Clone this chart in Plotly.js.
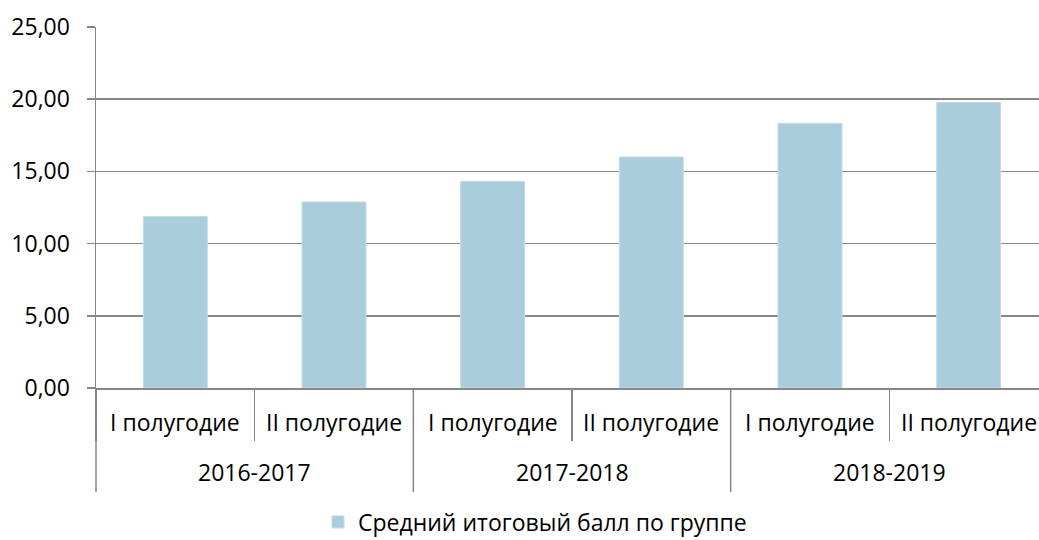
<!DOCTYPE html>
<html>
<head>
<meta charset="utf-8">
<script src="https://cdn.plot.ly/plotly-3.0.1.min.js"></script>
<style>
html,body{margin:0;padding:0;overflow:hidden;background:#fff;}
#chart{width:1054px;height:540px;}
</style>
</head>
<body>
<div id="chart"></div>
<script>
// Data
const years = ["2016-2017", "2017-2018", "2018-2019"];
const halves = ["I полугодие", "II полугодие"];
const values = [11.87, 12.88, 14.31, 16.0, 18.33, 19.77];
const seriesName = "Средний итоговый балл по группе";

const FONT = "Open Sans, sans-serif";
const FS = 23;
const GRAY = "#878787";

const cats = [];
const inner = [];
years.forEach((y) => {
  halves.forEach(h => { cats.push(y + " | " + h); inner.push(h); });
});

const trace = {
  type: "bar",
  x: cats,
  y: values,
  name: seriesName,
  marker: {color: "#aacddb", line: {color: "#c2dce6", width: 1}},
  showlegend: true,
  hoverinfo: "y"
};

const annotations = [];
cats.forEach((c, i) => {
  annotations.push({
    x: i, xref: "x", y: -0.093, yref: "paper",
    text: inner[i], showarrow: false, xanchor: "center", yanchor: "middle",
    font: {family: FONT, size: FS, color: "#000"}
  });
});
years.forEach((y, yi) => {
  annotations.push({
    x: yi * halves.length + (halves.length - 1) / 2, xref: "x", y: -0.232, yref: "paper",
    text: y, showarrow: false, xanchor: "center", yanchor: "middle",
    font: {family: FONT, size: FS, color: "#000"}
  });
});

const shapes = [];
years.forEach((y, yi) => {
  const b = yi * halves.length - 0.5;
  shapes.push({type: "line", xref: yi === 0 ? "paper" : "x", x0: yi === 0 ? 0 : b, x1: yi === 0 ? 0 : b,
    yref: "paper", y0: 0, y1: -0.288, line: {color: GRAY, width: 1.5}});
});

const layout = {
  width: 1054, height: 540,
  margin: {l: 96, r: 6, t: 27, b: 152},
  paper_bgcolor: "#fff", plot_bgcolor: "#fff",
  separators: ", ",
  font: {family: FONT, size: FS, color: "#000"},
  bargap: 0.597,
  xaxis: {
    type: "category", categoryorder: "array", categoryarray: cats,
    range: [-0.5, cats.length - 0.5],
    showticklabels: false,
    ticks: "outside", tickson: "boundaries", ticklen: 51, tickwidth: 1.5, tickcolor: GRAY,
    showline: true, linecolor: GRAY, linewidth: 1.5,
    showgrid: false, zeroline: false, fixedrange: true
  },
  yaxis: {
    range: [0, 25], dtick: 5, tick0: 0, tickformat: ".2f",
    ticks: "outside", ticklen: 8, tickwidth: 1.5, tickcolor: GRAY,
    showline: true, linecolor: GRAY, linewidth: 1.5,
    showgrid: true, gridcolor: GRAY, gridwidth: 1.5,
    zeroline: false, fixedrange: true, ticklabelstandoff: 12,
    tickfont: {family: FONT, size: FS, color: "#000"}
  },
  showlegend: true,
  legend: {
    orientation: "h", xref: "container", yref: "container",
    x: 318 / 1054, xanchor: "left", y: 18 / 540, yanchor: "middle",
    font: {family: FONT, size: FS, color: "#000"}, itemwidth: 30
  },
  annotations: annotations,
  shapes: shapes
};

Plotly.newPlot("chart", [trace], layout, {displayModeBar: false, staticPlot: true});
</script>
</body>
</html>
